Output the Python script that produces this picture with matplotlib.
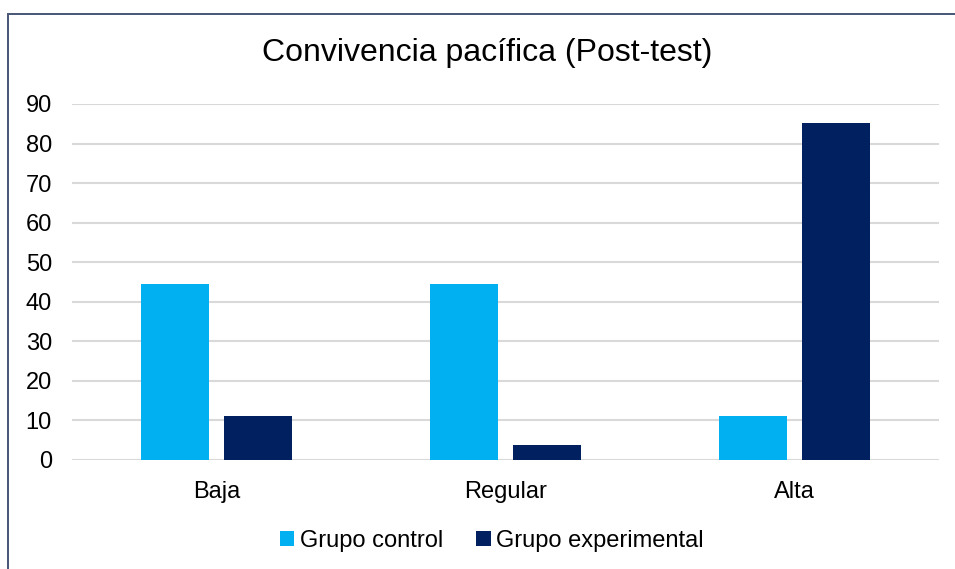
import numpy as np
import matplotlib
matplotlib.use("Agg")
import matplotlib.pyplot as plt
from matplotlib.patches import Patch, Rectangle

# datos del gráfico
categorias = ["Baja", "Regular", "Alta"]
grupo_control = [44.44, 44.44, 11.11]
grupo_experimental = [11.11, 3.70, 85.19]
series = ["Grupo control", "Grupo experimental"]
colores = ["#00B0F0", "#002060"]
titulo = "Convivencia pacífica (Post-test)"

plt.rcParams["font.family"] = ["Liberation Sans", "DejaVu Sans"]

W, H = 955, 569
fig = plt.figure(figsize=(W / 100, H / 100), dpi=100)
fig.patch.set_facecolor("white")

# area del grafico en pixeles
x0, x1 = 72, 939
y_top, y_bot = 104, 460
ax = fig.add_axes([x0 / W, 1 - y_bot / H, (x1 - x0) / W, (y_bot - y_top) / H])

x = np.arange(len(categorias))
ancho = 0.232
desp = 0.1436
ax.bar(x - desp, grupo_control, ancho, color=colores[0], zorder=3)
ax.bar(x + desp, grupo_experimental, ancho, color=colores[1], zorder=3)

ax.set_xlim(-0.5, len(categorias) - 0.5)
ax.set_ylim(0, 90)
ax.set_yticks(np.arange(0, 91, 10))
ax.set_xticks(x)
ax.set_xticklabels(categorias)
ax.yaxis.grid(True, color="#D9D9D9", linewidth=1.5, zorder=0)
ax.set_axisbelow(True)
for s in ax.spines.values():
    s.set_visible(False)
ax.tick_params(axis="both", length=0, labelsize=17, colors="black")
ax.tick_params(axis="y", pad=14.5)
ax.tick_params(axis="x", pad=15)

fig.text(487 / W, 1 - 53 / H, titulo, ha="center", va="center", fontsize=23)

handles = [Patch(facecolor=c, edgecolor="none") for c in colores]
fig.legend(handles, series, loc="center", bbox_to_anchor=(492 / W, 1 - 541 / H),
           ncol=2, frameon=False, fontsize=17, handlelength=0.6, handleheight=0.6,
           handletextpad=0.25, columnspacing=1.4)

# borde del recuadro (solo izquierda y arriba visibles)
fig.add_artist(Rectangle((6.5 / W, 0), 2 / W, 1 - 13 / H, facecolor="#4A5A78",
                         edgecolor="none", transform=fig.transFigure))
fig.add_artist(Rectangle((6.5 / W, 1 - 15 / H), 1, 2 / H, facecolor="#4A5A78",
                         edgecolor="none", transform=fig.transFigure))

fig.savefig("out.png", dpi=100)
